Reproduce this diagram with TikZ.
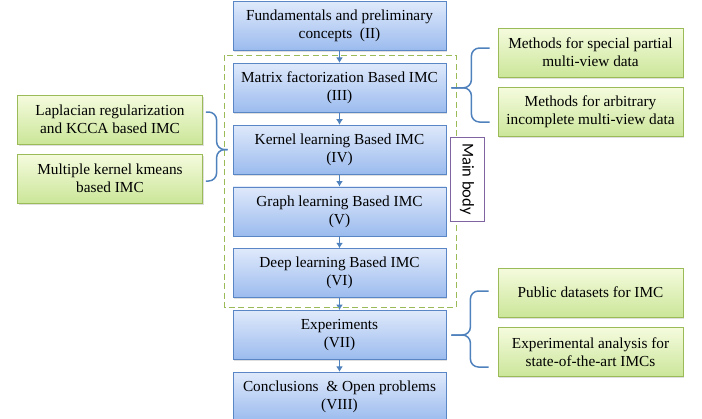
\documentclass[tikz,border=0pt]{standalone}
\usepackage{fontspec}
\setmainfont{Liberation Serif}
\newfontfamily\stagefont{Liberation Serif}
\newfontfamily\tagfont{Carlito}
\usetikzlibrary{positioning,calc,shadows,arrows.meta}

\definecolor{stageline}{HTML}{5A86C5}
\definecolor{stagetop}{HTML}{DFE9FB}
\definecolor{stagebottom}{HTML}{9BBBEE}
\definecolor{topicline}{HTML}{9BBB59}
\definecolor{topictop}{HTML}{F5FBDE}
\definecolor{topicbottom}{HTML}{CBE699}
\definecolor{flowblue}{HTML}{4F81BD}
\definecolor{tagpurple}{HTML}{8064A2}

\tikzset{
  stage/.style  = {shape=rectangle, draw=stageline, line width=0.8pt, align=center,
                   top color=stagetop, bottom color=stagebottom,
                   minimum width=213pt, minimum height=49pt, inner sep=2pt,
                   drop shadow={shadow xshift=1pt, shadow yshift=-1.5pt, opacity=0.25}},
  topic/.style  = {stage, draw=topicline, top color=topictop, bottom color=topicbottom,
                   minimum width=185pt},
  bodytag/.style = {shape=rectangle, draw=tagpurple, line width=1pt, fill=white,
                   minimum width=84pt, minimum height=34pt, inner sep=1pt,
                   font=\tagfont\fontsize{16.5}{18}\selectfont},
  flow/.style   = {draw=flowblue, line width=1.3pt, -{Latex[length=5.5pt,width=7pt]}},
  curly/.style  = {draw=flowblue, line width=1.5pt, rounded corners=8pt},
  part/.style   = {draw=topicline, line width=1.3pt, dash pattern=on 6pt off 3.5pt}
}

\begin{document}
\begin{tikzpicture}
[
    every node/.style = {font=\stagefont\fontsize{15.3}{18}\selectfont},
    node distance = 12pt
  ]
\useasboundingbox (0,0) rectangle (702pt,-418pt);

% main chain
\node[stage] (fund) at (339.5pt,-26pt) {Fundamentals and preliminary\\concepts\ \ (II)};
\node[stage, below=of fund] (matrix) {Matrix factorization Based IMC\\(III)};
\node[stage, below=of matrix] (kernel) {Kernel learning Based IMC\\(IV)};
\node[stage, below=of kernel] (graph) {Graph learning Based IMC\\(V)};
\node[stage, below=of graph] (deep) {Deep learning Based IMC\\(VI)};
\node[stage, below=of deep] (exper) {Experiments\\(VII)};
\node[stage, below=of exper] (concl) {Conclusions\ \ \& Open problems\\(VIII)};

\draw[flow] (fund) -- (matrix);
\draw[flow] (matrix) -- (kernel);
\draw[flow] (kernel) -- (graph);
\draw[flow] (graph) -- (deep);
\draw[flow] (deep) -- (exper);
\draw[flow] (exper) -- (concl);

\draw[part] ($(matrix.north west)+(-8pt,7.5pt)$) rectangle ($(deep.south east)+(10pt,-9.5pt)$);
\node[bodytag, rotate=-90] (mainbody) at (467pt,-179pt) {Main body};

% side topics
\node[topic] (special) at (590.5pt,-52.5pt) {Methods for special partial\\multi-view data};
\node[topic] (arbitrary) at (590.5pt,-112pt) {Methods for arbitrary\\incomplete multi-view data};
\node[topic] (laplace) at (110pt,-119.5pt) {Laplacian regularization\\and KCCA based IMC};
\node[topic] (mkkm) at (110pt,-178.5pt) {Multiple kernel kmeans\\based IMC};
\node[topic] (public) at (590.5pt,-292.5pt) {Public datasets for IMC};
\node[topic] (analysis) at (590.5pt,-352pt) {Experimental analysis for\\state-of-the-art IMCs};

% braces
\coordinate (matrixtip) at ($(matrix.east)+(5pt,0)$);
\draw[curly] ($(special.west)+(-8pt,4.5pt)$) -| ($(matrixtip)+(20pt,0)$) -- (matrixtip);
\draw[curly] ($(arbitrary.west)+(-8pt,-10pt)$) -| ($(matrixtip)+(20pt,0)$) -- (matrixtip);

\coordinate (kerneltip) at ($(kernel.west)+(-5pt,0)$);
\draw[curly] ($(laplace.east)+(3pt,7.5pt)$) -| ($(kerneltip)+(-11pt,0)$) -- (kerneltip);
\draw[curly] ($(mkkm.east)+(3pt,-2.5pt)$) -| ($(kerneltip)+(-11pt,0)$) -- (kerneltip);

\coordinate (expertip) at ($(exper.east)+(5pt,0)$);
\draw[curly] ($(public.west)+(-9pt,1.5pt)$) -| ($(expertip)+(19pt,0)$) -- (expertip);
\draw[curly] ($(analysis.west)+(-9pt,-15pt)$) -| ($(expertip)+(19pt,0)$) -- (expertip);
\end{tikzpicture}
\end{document}
